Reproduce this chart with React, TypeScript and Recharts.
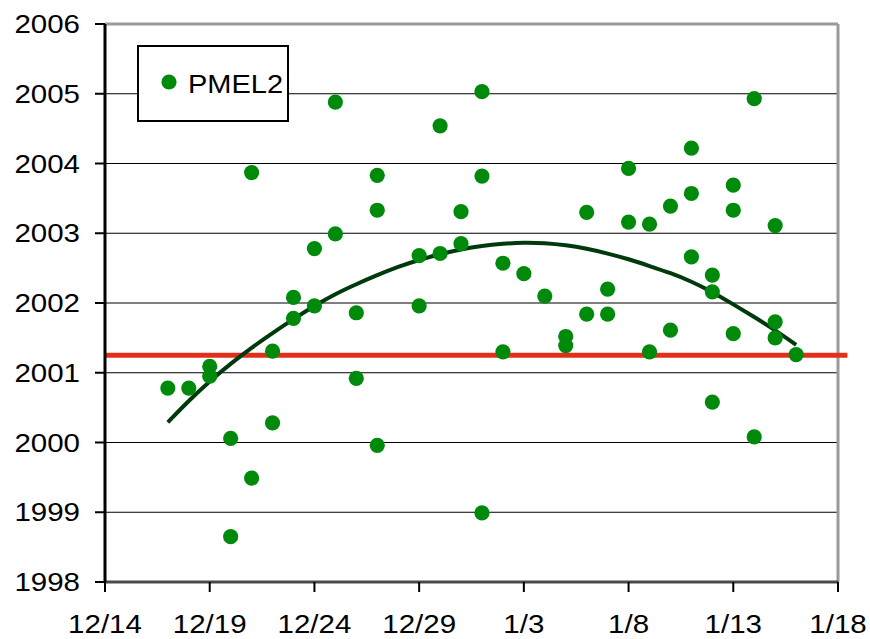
import React from "react";
import {
  ComposedChart,
  Scatter,
  Line,
  XAxis,
  YAxis,
  CartesianGrid,
  ReferenceLine,
} from "recharts";

// Observation dates (month/day) and their values for PMEL2
const pointDates = [
  "12/17", "12/18", "12/19", "12/19", "12/20", "12/20", "12/21", "12/21",
  "12/22", "12/22", "12/23", "12/23", "12/24", "12/24", "12/25", "12/25",
  "12/26", "12/26", "12/27", "12/27", "12/27", "12/29", "12/29", "12/30",
  "12/30", "12/31", "12/31", "1/1", "1/1", "1/1", "1/2", "1/2", "1/3",
  "1/4", "1/5", "1/5", "1/6", "1/6", "1/7", "1/7", "1/8", "1/8", "1/9",
  "1/9", "1/10", "1/10", "1/11", "1/11", "1/11", "1/12", "1/12", "1/12",
  "1/13", "1/13", "1/13", "1/14", "1/14", "1/15", "1/15", "1/15", "1/16",
];
const pointValues = [
  2000.78, 2000.78, 2001.09, 2000.95, 2000.06, 1998.65, 2003.87, 1999.49,
  2001.31, 2000.28, 2002.08, 2001.78, 2002.78, 2001.96, 2004.88, 2002.99,
  2001.86, 2000.92, 2003.83, 2003.33, 1999.96, 2002.68, 2001.96, 2004.54,
  2002.71, 2003.31, 2002.85, 2005.03, 2003.82, 1998.99, 2002.57, 2001.3,
  2002.42, 2002.1, 2001.52, 2001.39, 2003.3, 2001.84, 2002.2, 2001.84,
  2003.93, 2003.16, 2003.13, 2001.3, 2003.39, 2001.61, 2004.22, 2003.57,
  2002.66, 2002.4, 2002.16, 2000.58, 2003.69, 2003.33, 2001.56, 2004.93,
  2000.08, 2003.11, 2001.73, 2001.5, 2001.26,
];

// Trend curve through the scatter
const trendDates = [
  "12/17", "12/18", "12/19", "12/20", "12/21", "12/22", "12/23", "12/24",
  "12/25", "12/26", "12/27", "12/28", "12/29", "12/30", "12/31", "1/1",
  "1/2", "1/3", "1/4", "1/5", "1/6", "1/7", "1/8", "1/9", "1/10", "1/11",
  "1/12", "1/13", "1/14", "1/15", "1/16",
];
const trendValues = [
  2000.29, 2000.6, 2000.88, 2001.13, 2001.36, 2001.57, 2001.77, 2001.96,
  2002.13, 2002.27, 2002.4, 2002.52, 2002.62, 2002.7, 2002.77, 2002.82,
  2002.85, 2002.87, 2002.86, 2002.83, 2002.78, 2002.71, 2002.63, 2002.53,
  2002.43, 2002.31, 2002.16, 2001.98, 2001.8, 2001.61, 2001.4,
];

// Horizontal reference level
const referenceLevel = 2001.25;

// Axis tick labels
const xTickLabels = ["12/14", "12/19", "12/24", "12/29", "1/3", "1/8", "1/13", "1/18"];
const yTickValues = [1998, 1999, 2000, 2001, 2002, 2003, 2004, 2005, 2006];

const seriesName = "PMEL2";

// Days elapsed since 12/14
const toDay = (label: string): number => {
  const [m, d] = label.split("/").map(Number);
  return m === 12 ? d - 14 : 17 + d;
};

const scatterData = pointDates.map((d, i) => ({ day: toDay(d), value: pointValues[i] }));
const trendData = trendDates.map((d, i) => ({ day: toDay(d), value: trendValues[i] }));
const xTicks = xTickLabels.map(toDay);
const xLabelByDay: Record<number, string> = {};
xTickLabels.forEach((l) => (xLabelByDay[toDay(l)] = l));

const FONT = "'Liberation Sans', Arial, sans-serif";
const STRETCH = 1.18;
const DOT_GREEN = "#008a0c";

const YTick = (props: any) => {
  const { x, y, payload } = props;
  return (
    <g transform={`translate(${x},${y})`}>
      <text
        transform={`scale(${STRETCH},1)`}
        textAnchor="end"
        dy={9}
        fontSize={25}
        fontFamily={FONT}
        fill="#000"
      >
        {payload.value}
      </text>
    </g>
  );
};

const XTick = (props: any) => {
  const { x, y, payload } = props;
  return (
    <g transform={`translate(${x},${y})`}>
      <text
        transform={`scale(${STRETCH},1)`}
        textAnchor="middle"
        dy={39}
        fontSize={25}
        fontFamily={FONT}
        fill="#000"
      >
        {xLabelByDay[payload.value] ?? ""}
      </text>
    </g>
  );
};

const Dot = (props: any) => {
  const { cx, cy } = props;
  if (cx == null || cy == null) return null;
  return <circle cx={cx} cy={cy} r={7.6} fill={DOT_GREEN} />;
};

export default function App() {
  return (
    <div style={{ position: "absolute", left: 0, top: 0, width: 870, height: 639, background: "#fff" }}>
      <ComposedChart
        width={870}
        height={639}
        margin={{ top: 24, right: 32, bottom: 0, left: 0 }}
      >
        <CartesianGrid vertical={false} stroke="#000" strokeWidth={1.2} />
        <XAxis
          type="number"
          dataKey="day"
          domain={[0, 35]}
          ticks={xTicks}
          interval={0}
          height={57}
          tick={<XTick />}
          tickSize={10}
          tickMargin={2}
          axisLine={{ stroke: "#4a4a4a", strokeWidth: 3 }}
          tickLine={{ stroke: "#000", strokeWidth: 2 }}
          allowDataOverflow
        />
        <YAxis
          type="number"
          domain={[1998, 2006]}
          ticks={yTickValues}
          interval={0}
          width={105}
          tick={<YTick />}
          tickSize={10}
          tickMargin={15}
          axisLine={{ stroke: "#000", strokeWidth: 3 }}
          tickLine={{ stroke: "#000", strokeWidth: 2 }}
          allowDataOverflow
        />
        <ReferenceLine y={2006} stroke="#9a9a9a" strokeWidth={3} />
        <ReferenceLine x={35} stroke="#9a9a9a" strokeWidth={3} />
        <ReferenceLine
          segment={[
            { x: 0, y: referenceLevel },
            { x: 35.45, y: referenceLevel },
          ]}
          ifOverflow="visible"
          stroke="#e0301c"
          strokeWidth={5}
        />
        <Scatter
          name={seriesName}
          data={scatterData}
          dataKey="value"
          shape={<Dot />}
          isAnimationActive={false}
        />
        <Line
          data={trendData}
          dataKey="value"
          type="basis"
          stroke="#003a0c"
          strokeWidth={4}
          dot={false}
          activeDot={false}
          legendType="none"
          isAnimationActive={false}
        />
      </ComposedChart>
      <svg
        width={152}
        height={77}
        style={{ position: "absolute", left: 137, top: 45 }}
      >
        <rect x={1} y={1} width={150} height={75} fill="#fff" stroke="#000" strokeWidth={2} />
        <circle cx={32} cy={37} r={7.6} fill={DOT_GREEN} />
        <g transform="translate(51,48)">
          <text transform="scale(1.16,1)" fontSize={25} fontFamily={FONT} fill="#000">
            {seriesName}
          </text>
        </g>
      </svg>
    </div>
  );
}
